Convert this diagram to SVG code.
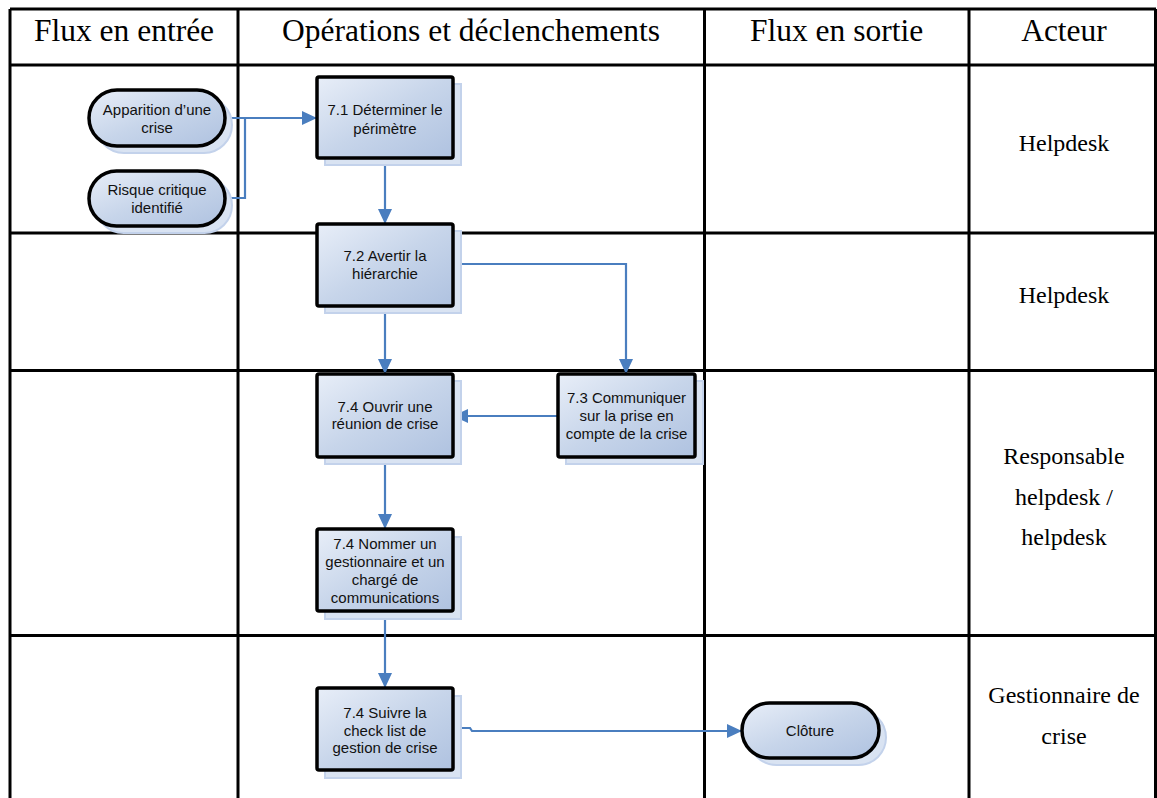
<svg xmlns="http://www.w3.org/2000/svg" width="1157" height="798" viewBox="0 0 1157 798">
<style>
.grid{stroke:#000;stroke-width:3;fill:none}
.hdr{font-family:"Liberation Serif","Times New Roman",serif;font-size:31.5px;fill:#000;text-anchor:middle}
.act{font-family:"Liberation Serif","Times New Roman",serif;font-size:24px;fill:#000;text-anchor:middle}
.box{fill:url(#g);stroke:#000;stroke-width:3.5}
.shd{fill:#d9e3f2;stroke:#c3d2eb;stroke-width:2}
.t{font-family:"Liberation Sans",Arial,sans-serif;font-size:15px;fill:#111;text-anchor:middle;dominant-baseline:central}
.c{fill:none;stroke:#4a7ebf;stroke-width:2.2}
</style>
<defs>
<linearGradient id="g" x1="0" y1="0" x2="1" y2="1">
<stop offset="0" stop-color="#e8eef8"/>
<stop offset="0.5" stop-color="#c7d5ea"/>
<stop offset="1" stop-color="#afc2e0"/>
</linearGradient>
<marker id="a" markerUnits="userSpaceOnUse" markerWidth="16" markerHeight="16" refX="15" refY="8" orient="auto" overflow="visible">
<path d="M0,1 L15,8 L0,15 z" fill="#4a7ebf"/>
</marker>
</defs>
<rect width="1157" height="798" fill="#fff"/>
<g id="table">
<path class="grid" d="M10,9 H1156 M10,65 H1156 M10,233 H1156 M10,370.5 H1156 M10,635.5 H1156 M10,9 V798 M238,9 V798 M704.5,9 V798 M969,9 V798 M1155.5,9 V798"/>
<text class="hdr" x="124" y="41">Flux en entrée</text>
<text class="hdr" x="471" y="41">Opérations et déclenchements</text>
<text class="hdr" x="836.5" y="41">Flux en sortie</text>
<text class="hdr" x="1064" y="41">Acteur</text>
<text class="act" x="1064" y="151">Helpdesk</text>
<text class="act" x="1064" y="303">Helpdesk</text>
<text class="act" x="1064" y="464">Responsable</text>
<text class="act" x="1064" y="505">helpdesk /</text>
<text class="act" x="1064" y="545">helpdesk</text>
<text class="act" x="1064" y="703">Gestionnaire de</text>
<text class="act" x="1064" y="744">crise</text>
</g>
<g id="connectors">
<path class="c" d="M225,118 H317" marker-end="url(#a)"/>
<path class="c" d="M225,198 H245 V118"/>
<path class="c" d="M385,158 V224" marker-end="url(#a)"/>
<path class="c" d="M453,264 H626 V374" marker-end="url(#a)"/>
<path class="c" d="M385,306 V374" marker-end="url(#a)"/>
<path class="c" d="M558,416 H453" marker-end="url(#a)"/>
<path class="c" d="M385,457 V529" marker-end="url(#a)"/>
<path class="c" d="M385,611 V688" marker-end="url(#a)"/>
<path class="c" d="M453,728 H470 L472,731 H742" marker-end="url(#a)"/>
</g>
<g id="n-apparition">
<rect class="shd" x="96" y="97" width="136" height="56" rx="28"/>
<rect class="box" x="89" y="90" width="136" height="56" rx="28"/>
<text class="t" x="157" y="109">Apparition d’une</text>
<text class="t" x="157" y="127">crise</text>
</g>
<g id="n-risque">
<rect class="shd" x="96" y="178" width="136" height="55" rx="27.5"/>
<rect class="box" x="89" y="171" width="136" height="55" rx="27.5"/>
<text class="t" x="157" y="189">Risque critique</text>
<text class="t" x="157" y="207">identifié</text>
</g>
<g id="n-71">
<rect class="shd" x="325" y="84" width="136" height="81"/>
<rect class="box" x="317" y="77" width="136" height="81" rx="2"/>
<text class="t" x="385" y="109">7.1 Déterminer le</text>
<text class="t" x="385" y="128">périmètre</text>
</g>
<g id="n-72">
<rect class="shd" x="325" y="231" width="136" height="82"/>
<rect class="box" x="317" y="224" width="136" height="82" rx="2"/>
<text class="t" x="385" y="255">7.2 Avertir la</text>
<text class="t" x="385" y="273">hiérarchie</text>
</g>
<g id="n-73">
<rect class="shd" x="566" y="381" width="137" height="83"/>
<rect class="box" x="558" y="374" width="137" height="83" rx="2"/>
<text class="t" x="626.5" y="397">7.3 Communiquer</text>
<text class="t" x="626.5" y="415">sur la prise en</text>
<text class="t" x="626.5" y="433">compte de la crise</text>
</g>
<g id="n-74-ouvrir">
<rect class="shd" x="325" y="381" width="136" height="83"/>
<rect class="box" x="317" y="374" width="136" height="83" rx="2"/>
<text class="t" x="385" y="406">7.4 Ouvrir une</text>
<text class="t" x="385" y="423">réunion de crise</text>
</g>
<g id="n-74-nommer">
<rect class="shd" x="325" y="537" width="136" height="82"/>
<rect class="box" x="317" y="529" width="136" height="82" rx="2"/>
<text class="t" x="385" y="543">7.4 Nommer un</text>
<text class="t" x="385" y="561">gestionnaire et un</text>
<text class="t" x="385" y="579">chargé de</text>
<text class="t" x="385" y="597">communications</text>
</g>
<g id="n-74-suivre">
<rect class="shd" x="325" y="696" width="136" height="82"/>
<rect class="box" x="317" y="688" width="136" height="82" rx="2"/>
<text class="t" x="385" y="712">7.4 Suivre la</text>
<text class="t" x="385" y="730">check list de</text>
<text class="t" x="385" y="747">gestion de crise</text>
</g>
<g id="n-cloture">
<rect class="shd" x="749" y="710" width="137" height="55" rx="27.5"/>
<rect class="box" x="742" y="703" width="137" height="55" rx="27.5"/>
<text class="t" x="810" y="730">Clôture</text>
</g>
</svg>
